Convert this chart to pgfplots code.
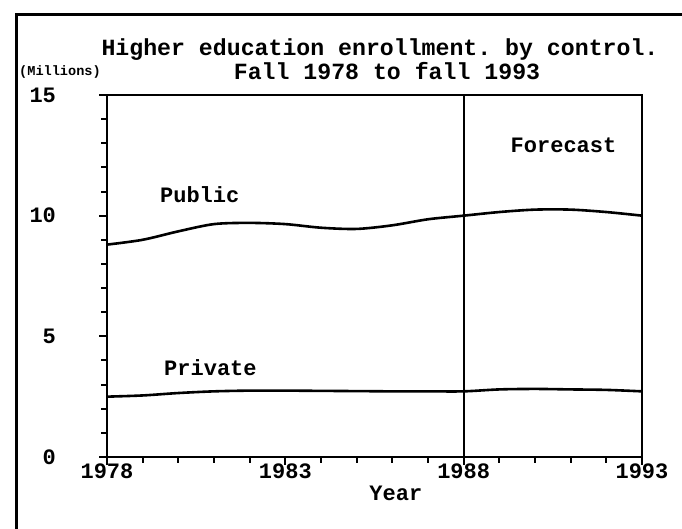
\documentclass[border=0pt]{standalone}
\usepackage{pgfplots}
\pgfplotsset{compat=1.18}
\usepackage{fontspec}
\setmainfont{Liberation Mono}
\setmonofont{Liberation Mono}
\begin{document}
\begin{tikzpicture}[font=\ttfamily\bfseries]
\useasboundingbox (0,0) rectangle (341pt,264.5pt);
\draw[line width=1.5pt] (8pt,0) -- (8pt,257pt) -- (341pt,257pt);
\node[font=\fontsize{11.6}{13}\ttfamily\bfseries] at (190pt,239.5pt) {Higher education enrollment. by control.};
\node[font=\fontsize{11.6}{13}\ttfamily\bfseries] at (193.5pt,229pt) {Fall 1978 to fall 1993};
\node[font=\fontsize{6.8}{8}\ttfamily\bfseries] at (30pt,228.5pt) {(Millions)};
\begin{axis}[
  at={(53.5pt,36pt)}, anchor=south west,
  scale only axis, width=267.5pt, height=181pt,
  xmin=1978, xmax=1993, ymin=0, ymax=15,
  xtick={1978,1983,1988,1993},
  xticklabels={1978,1983,1988,1993},
  ytick={0,5,10,15},
  minor tick num=4,
  tick align=outside,
  xtick pos=bottom, ytick pos=left,
  major tick length=4pt, minor tick length=3pt,
  every tick/.style={black, line width=1pt},
  axis line style={line width=1pt},
  tick label style={font=\fontsize{11}{12}\ttfamily\bfseries},
  /pgf/number format/assume math mode=true,
  xticklabel style={yshift=4pt},
  yticklabel style={xshift=-18pt},
  y tick label style={/pgf/number format/.cd, fixed},
  clip=false,
]
\addplot[black, line width=1.3pt, smooth] coordinates {
(1978,8.8) (1979,9.0) (1980,9.35) (1981,9.65) (1982,9.7) (1983,9.65)
(1984,9.5) (1985,9.45) (1986,9.6) (1987,9.85) (1988,10.0) (1989,10.15)
(1990,10.25) (1991,10.25) (1992,10.15) (1993,10.0)};
\addplot[black, line width=1.3pt, smooth] coordinates {
(1978,2.5) (1979,2.55) (1980,2.65) (1981,2.72) (1982,2.75) (1983,2.75)
(1984,2.74) (1985,2.73) (1986,2.72) (1987,2.72) (1988,2.72) (1989,2.8)
(1990,2.82) (1991,2.8) (1992,2.78) (1993,2.72)};
\addplot[black, line width=1pt] coordinates {(1988,0) (1988,15)};
\node[font=\fontsize{11}{12}\ttfamily\bfseries] at (axis cs:1990.8,12.9) {Forecast};
\node[font=\fontsize{11}{12}\ttfamily\bfseries] at (axis cs:1980.6,10.86) {Public};
\node[font=\fontsize{11}{12}\ttfamily\bfseries] at (axis cs:1980.9,3.7) {Private};
\node[font=\fontsize{11}{12}\ttfamily\bfseries] at (axis cs:1986.1,-1.5) {Year};
\end{axis}
\end{tikzpicture}
\end{document}
